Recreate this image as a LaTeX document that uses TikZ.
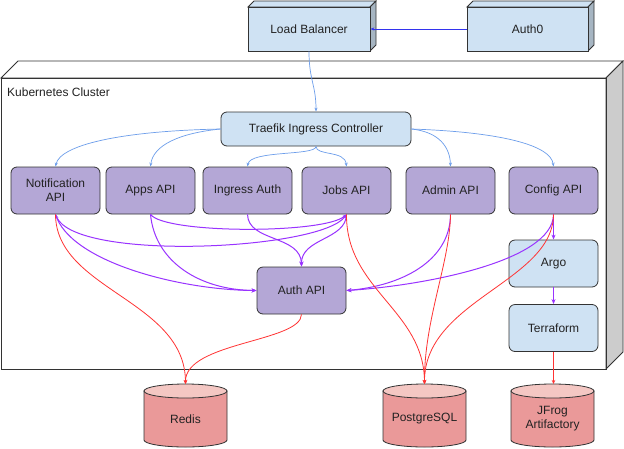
\documentclass[tikz,border=0pt]{standalone}
\usepackage{fontspec}
\setmainfont{Liberation Sans}
\usetikzlibrary{arrows.meta}
\definecolor{boxblue}{HTML}{CFE2F3}
\definecolor{boxpurple}{HTML}{B4A7D6}
\definecolor{cylred}{HTML}{EA9999}
\definecolor{cyltop}{HTML}{F4C7C3}
\definecolor{edgeblue}{HTML}{6D9EEB}
\definecolor{edgepurple}{HTML}{9933FF}
\definecolor{edgered}{HTML}{FF3333}
\definecolor{edgedark}{HTML}{3333EE}
\definecolor{strokec}{HTML}{333333}
\definecolor{textc}{HTML}{222222}
\newcommand\mycyl[3]{%
  \path[draw=strokec, fill=cylred, line width=0.8pt]
    (#1-41.5,391) -- (#1-41.5,440)
    .. controls (#1-41.5,443.87) and (#1-22.9,447) .. (#1,447)
    .. controls (#1+22.9,447) and (#1+41.5,443.87) .. (#1+41.5,440)
    -- (#1+41.5,391) -- cycle;
  \path[draw=strokec, fill=cyltop, line width=0.8pt] (#1,391) ellipse [x radius=41.5, y radius=7];
  \coordinate (#2) at (#1,384);
  \node[align=center] (#2label) at (#1,419) {#3};
}
\begin{document}
\begin{tikzpicture}[x=1pt,y=-1pt, font=\fontsize{12}{14}\selectfont, text=textc,
  svc/.style={draw=strokec, fill=boxpurple, rounded corners=6pt, minimum width=89pt, minimum height=47pt, align=center, line width=0.8pt, inner sep=0pt},
  infra/.style={svc, fill=boxblue},
  cubefront/.style={draw=strokec, fill=boxblue, line width=0.8pt, inner sep=0pt, minimum height=44pt},
  facestyle/.style={draw=strokec, line width=0.8pt},
  blueedge/.style={draw=edgeblue, line width=0.7pt, -{Stealth[length=4pt,width=3pt]}},
  purpleedge/.style={draw=edgepurple, line width=1pt, -{Stealth[length=5pt,width=4pt]}},
  rededge/.style={draw=edgered, line width=0.8pt, -{Stealth[length=4pt,width=3.5pt]}},
  darkedge/.style={draw=edgedark, line width=0.8pt, -{Stealth[length=4pt,width=3pt]}}
]
\useasboundingbox (0,0) rectangle (624,448);
\fill[white] (0,0) rectangle (624,448);

% Kubernetes cluster (3D box)
\path[facestyle, fill=white] (1,78) -- (18,61) -- (623,61) -- (606,78) -- cycle;
\path[facestyle, fill=black!20] (606,78) -- (623,61) -- (623,352) -- (606,369) -- cycle;
\path[facestyle] (1,78) rectangle (606,369);
\node[anchor=west, inner sep=0pt] (clusterlabel) at (7,92) {Kubernetes Cluster};

% Load balancer cube
\path[facestyle, fill=boxblue] (248,7) -- (254,1) -- (376,1) -- (370,7) -- cycle;
\path[facestyle, fill=boxblue!80!black] (370,7) -- (376,1) -- (376,45) -- (370,51) -- cycle;
\node[cubefront, minimum width=122pt] (lb) at (309,29) {Load Balancer};

% Auth0 cube
\path[facestyle, fill=boxblue] (467,7) -- (473,1) -- (594,1) -- (588,7) -- cycle;
\path[facestyle, fill=boxblue!80!black] (588,7) -- (594,1) -- (594,45) -- (588,51) -- cycle;
\node[cubefront, minimum width=121pt] (auth0) at (527.5,29) {Auth0};

% Nodes
\node[infra, minimum width=190pt, minimum height=34pt] (traefik) at (316,129) {Traefik Ingress Controller};
\node[svc] (notif) at (55.5,190.5) {Notification\\API};
\node[svc] (apps) at (150.5,190.5) {Apps API};
\node[svc] (ingress) at (247.5,190.5) {Ingress Auth};
\node[svc] (jobs) at (346.5,190.5) {Jobs API};
\node[svc] (admin) at (450.5,190.5) {Admin API};
\node[svc] (config) at (553.5,190.5) {Config API};
\node[infra] (argo) at (553.5,263.5) {Argo};
\node[infra] (terraform) at (553.5,328) {Terraform};
\node[svc] (authapi) at (301.5,290.5) {Auth API};

% Databases
\mycyl{185.5}{redis}{Redis}
\mycyl{424.5}{pg}{PostgreSQL}
\mycyl{552.5}{jfrog}{JFrog\\Artifactory}

% Edges
\draw[darkedge] (auth0.west) -- (lb.east);
\draw[blueedge] (lb.south) .. controls (309,80) and (316,85) .. (traefik.north);

\draw[blueedge] (traefik.west) .. controls (120,131) and (60,145) .. (notif.north);
\draw[blueedge] (traefik.west) .. controls (180,133) and (153,145) .. (apps.north);
\draw[blueedge] (traefik.south) .. controls (316,156) and (250,150) .. (ingress.north);
\draw[blueedge] (traefik.south) .. controls (316,156) and (345,150) .. (jobs.north);
\draw[blueedge] (traefik.east) .. controls (440,132) and (450,148) .. (admin.north);
\draw[blueedge] (traefik.east) .. controls (500,132) and (551,145) .. (config.north);

% purple
\draw[purpleedge] (notif.south) .. controls (70,262) and (180,290) .. (authapi.west);
\draw[purpleedge, {Stealth[length=4pt,width=3pt]}-{Stealth[length=4pt,width=3pt]}] (notif.south) .. controls (75,262) and (322,250) .. (jobs.south);
\draw[purpleedge, -{Stealth[length=4pt,width=3pt]}] (apps.south) .. controls (165,234) and (325,234) .. (jobs.south);
\draw[purpleedge] (apps.south) .. controls (155,262) and (200,290) .. (authapi.west);
\draw[purpleedge] (ingress.south) .. controls (248,242) and (301,235) .. (authapi.north);
\draw[purpleedge] (jobs.south) .. controls (346,240) and (301,238) .. (authapi.north);
\draw[purpleedge] (admin.south) .. controls (450,262) and (400,286) .. (authapi.east);
\draw[purpleedge] (config.south) .. controls (553,262) and (420,286) .. (authapi.east);
\draw[purpleedge] (config.south) -- (argo.north);
\draw[purpleedge] (argo.south) -- (terraform.north);

% red
\draw[rededge] (notif.south) .. controls (56,290) and (185,300) .. (redis);
\draw[rededge] (authapi.south) .. controls (301,342) and (185,342) .. (redis);
\draw[rededge] (jobs.south) .. controls (346,290) and (424,310) .. (pg);
\draw[rededge] (admin.south) .. controls (450,262) and (424,320) .. (pg);
\draw[rededge] (config.south) .. controls (553,282) and (424,300) .. (pg);
\draw[rededge] (terraform.south) -- (terraform.south |- jfrog);
\end{tikzpicture}
\end{document}
